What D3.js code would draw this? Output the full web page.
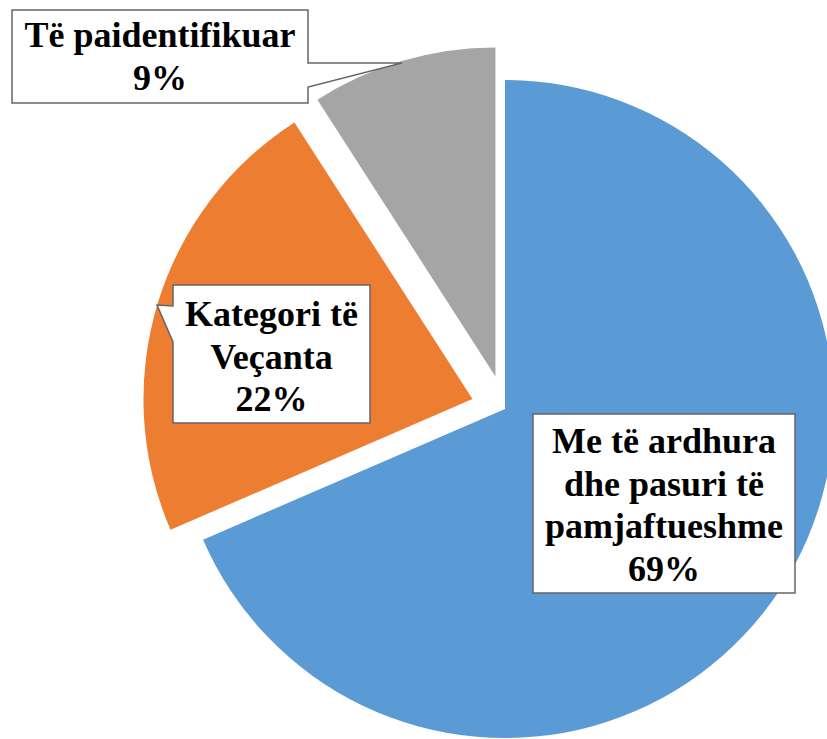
<!DOCTYPE html>
<html>
<head>
<meta charset="utf-8">
<script src="https://cdn.jsdelivr.net/npm/d3@7"></script>
<style>
  html, body { margin: 0; padding: 0; background: #fff; }
  svg { display: block; }
</style>
</head>
<body>
<svg id="chart"></svg>
<script>
'use strict';

// data
var categories = ['Me të ardhura dhe pasuri të pamjaftueshme', 'Kategori të Veçanta', 'Të paidentifikuar'];
var values = [68.5, 22.4, 9.1];
var colors = ['#5B9BD5', '#ED7D31', '#A5A5A5'];

// label lines, one list per slice (without the percent line)
var labelLines = [
  ['Me të ardhura', 'dhe pasuri të', 'pamjaftueshme'],
  ['Kategori të', 'Veçanta'],
  ['Të paidentifikuar']
];

var width = 827,
  height = 739,
  center = { x: 505, y: 409 },
  radius = 329,
  explode = [0, 34, 34],
  lineHeight = 42.5;

// callout boxes: rect plus optional wedge pointer
var boxes = [
  { x: 533, y: 414, w: 262, h: 179, firstBase: 453, wedge: null },
  { x: 173, y: 285, w: 197, h: 138, firstBase: 326, wedge: { side: 'left', y1: 306, y2: 342, tip: [157, 305] } },
  { x: 12, y: 10, w: 296, h: 93, firstBase: 47, wedge: { side: 'right', y1: 63, y2: 87, tip: [402, 63] } }
];

var svg = d3.select('#chart')
  .attr('width', width)
  .attr('height', height);

var pie = d3.pie().sort(null).value(function (d) { return d; });
var arc = d3.arc().innerRadius(0).outerRadius(radius);
var arcs = pie(values);

svg.append('g')
  .attr('transform', 'translate(' + center.x + ',' + center.y + ')')
  .selectAll('path')
  .data(arcs)
  .enter().append('path')
  .attr('fill', function (d, i) { return colors[i]; })
  .attr('transform', function (d, i) {
    var mid = (d.startAngle + d.endAngle) / 2;
    return 'translate(' + (Math.sin(mid) * explode[i]) + ',' + (-Math.cos(mid) * explode[i]) + ')';
  })
  .attr('d', arc);

function calloutPath(b) {
  var x0 = b.x, y0 = b.y, x1 = b.x + b.w, y1 = b.y + b.h, w = b.wedge;
  var p = d3.path();
  p.moveTo(x0, y0);
  p.lineTo(x1, y0);
  if (w && w.side === 'right') {
    p.lineTo(x1, w.y1);
    p.lineTo(w.tip[0], w.tip[1]);
    p.lineTo(x1, w.y2);
  }
  p.lineTo(x1, y1);
  p.lineTo(x0, y1);
  if (w && w.side === 'left') {
    p.lineTo(x0, w.y2);
    p.lineTo(w.tip[0], w.tip[1]);
    p.lineTo(x0, w.y1);
  }
  p.closePath();
  return p.toString();
}

var labels = svg.append('g')
  .selectAll('g')
  .data(arcs)
  .enter().append('g');

labels.append('path')
  .attr('d', function (d, i) { return calloutPath(boxes[i]); })
  .attr('fill', '#fff')
  .attr('stroke', '#666')
  .attr('stroke-width', 1.5);

labels.each(function (d, i) {
  var b = boxes[i],
    lines = labelLines[i].concat([Math.round(d.value) + '%']);
  d3.select(this).selectAll('text')
    .data(lines)
    .enter().append('text')
    .attr('x', b.x + b.w / 2)
    .attr('y', function (t, j) { return b.firstBase + j * lineHeight; })
    .attr('text-anchor', 'middle')
    .attr('fill', '#000')
    .style('font-family', '"Liberation Serif"')
    .style('font-weight', 'bold')
    .style('font-size', '36px')
    .text(function (t) { return t; });
});
</script>
</body>
</html>
